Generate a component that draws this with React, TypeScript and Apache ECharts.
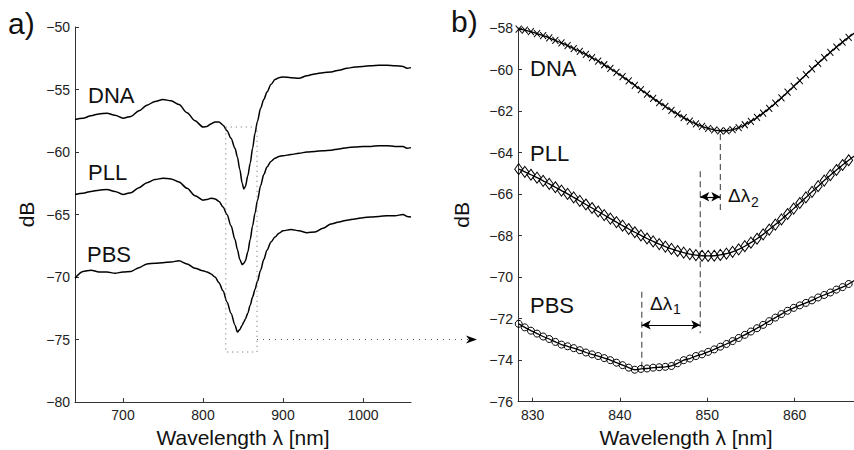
import React, { useEffect, useRef } from "react";
import * as echarts from "echarts";

// ---------- Panel a) full spectra ----------
const fullNm = [640, 650, 660, 670, 680, 690, 700, 710, 720, 730, 740, 750, 760, 770, 780, 790, 800,
  805, 810, 815, 820, 825, 830, 835, 840,
  843, 846, 849, 851, 853, 856, 859, 862, 865, 868,
  872, 876, 880, 885, 890, 895, 900,
  910, 920, 930, 940, 950, 960, 970, 980, 990, 1000, 1010, 1020, 1030, 1040, 1050,
  1055, 1060];
const fullDNA = [-57.4, -57.3, -57.1, -56.95, -56.9, -57.05, -57.3, -57.15, -56.7, -56.25, -55.95, -55.8, -55.9, -56.2, -56.85, -57.5, -58.0,
  -57.95, -57.75, -57.6, -57.6, -57.85, -58.3, -58.9, -59.7,
  -60.4, -61.4, -62.5, -62.95, -62.75, -61.9, -60.9, -59.7, -58.5, -57.55,
  -56.5, -55.8, -55.2, -54.6, -54.2, -54.05, -54.0,
  -54.05, -54.1, -53.9, -53.75, -53.65, -53.6, -53.45, -53.3, -53.2, -53.15, -53.1, -53.05, -53.05, -53.1, -53.15,
  -53.3, -53.25];
const fullPLL = [-63.4, -63.3, -63.15, -63.05, -63.0, -63.15, -63.4, -63.25, -62.85, -62.45, -62.2, -62.1, -62.15, -62.4, -62.9, -63.5, -63.85,
  -63.8, -63.7, -63.75, -63.95, -64.4, -65.0, -65.9, -67.0,
  -67.8, -68.6, -69.0, -68.9, -68.7, -68.0, -67.0, -65.9, -64.9, -63.9,
  -62.7, -61.8, -61.2, -60.75, -60.5, -60.35, -60.3,
  -60.2, -60.1, -60.0, -59.95, -59.9, -59.85, -59.75, -59.65, -59.6, -59.55, -59.55, -59.5, -59.5, -59.55, -59.55,
  -59.7, -59.65];
const fullPBS = [-70.1, -69.55, -69.45, -69.6, -69.6, -69.7, -69.6, -69.55, -69.25, -68.95, -68.9, -68.85, -68.8, -68.7, -68.95, -69.3, -69.5,
  -69.6, -69.75, -70.0, -70.45, -71.1, -72.0, -72.9, -73.85,
  -74.4, -74.2, -73.85, -73.6, -73.35, -72.9, -72.25, -71.6, -71.0, -70.35,
  -69.45, -68.6, -67.85, -67.2, -66.8, -66.5, -66.3,
  -66.2, -66.3, -66.45, -66.4, -66.1, -65.75, -65.6, -65.45, -65.35, -65.25, -65.2, -65.15, -65.1, -65.1, -65.0,
  -65.15, -65.2];

// ---------- Panel b) zoom on the resonance ----------
const zoomNm = [828.4, 829.1, 829.8, 830.5, 831.2, 831.9, 832.6, 833.3, 834.0, 834.7, 835.4, 836.1, 836.8, 837.5,
  838.2, 838.9, 839.6, 840.3, 841.0, 841.7, 842.4, 843.1, 843.8, 844.5, 845.2, 845.9, 846.6, 847.3,
  848.0, 848.7, 849.4, 850.1, 850.8, 851.5, 852.2, 852.9, 853.6, 854.3, 855.0, 855.7, 856.4, 857.1,
  857.8, 858.5, 859.2, 859.9, 860.6, 861.3, 862.0, 862.7, 863.4, 864.1, 864.8, 865.5, 866.2, 866.9];
const zoomDNA = [-58.05, -58.10, -58.18, -58.27, -58.37, -58.48, -58.60, -58.72, -58.85, -58.99, -59.13, -59.27, -59.43, -59.59,
  -59.77, -59.95, -60.14, -60.34, -60.55, -60.76, -60.97, -61.18, -61.39, -61.59, -61.78, -61.97, -62.15, -62.32,
  -62.48, -62.62, -62.74, -62.84, -62.91, -62.95, -62.95, -62.90, -62.80, -62.66, -62.50, -62.31, -62.10, -61.87,
  -61.62, -61.36, -61.09, -60.81, -60.53, -60.25, -59.97, -59.70, -59.43, -59.17, -58.92, -58.68, -58.45, -58.23];
const zoomPLL = [-64.80, -64.93, -65.07, -65.21, -65.36, -65.51, -65.67, -65.83, -65.99, -66.16, -66.33, -66.50, -66.67, -66.84,
  -67.01, -67.18, -67.35, -67.52, -67.68, -67.84, -67.99, -68.14, -68.28, -68.41, -68.53, -68.64, -68.74, -68.82,
  -68.89, -68.94, -68.97, -68.98, -68.97, -68.93, -68.87, -68.78, -68.66, -68.51, -68.34, -68.15, -67.94, -67.71,
  -67.47, -67.22, -66.96, -66.70, -66.43, -66.16, -65.89, -65.62, -65.35, -65.09, -64.84, -64.60, -64.37, -64.15];
const zoomPBS = [-72.25, -72.42, -72.58, -72.72, -72.86, -72.98, -73.12, -73.25, -73.33, -73.42, -73.52, -73.63, -73.72, -73.80,
  -73.90, -74.00, -74.12, -74.24, -74.36, -74.46, -74.42, -74.40, -74.36, -74.34, -74.32, -74.28, -74.15, -74.00,
  -73.92, -73.80, -73.72, -73.60, -73.48, -73.35, -73.22, -73.08, -72.93, -72.78, -72.62, -72.46, -72.30, -72.12,
  -71.95, -71.78, -71.62, -71.48, -71.36, -71.24, -71.12, -70.98, -70.86, -70.74, -70.60, -70.48, -70.33, -70.15];

// ---------- ticks / ranges ----------
const fullXTicks = [700, 800, 900, 1000];
const fullXRange = [640, 1060];
const fullYRange = [-80, -50];
const fullYStep = 5;
const zoomXTicks = [830, 840, 850, 860];
const zoomXRange = [828.32, 866.81];
const zoomYRange = [-76, -58];
const zoomYStep = 2;

// ---------- annotations ----------
const zoomBoxNm = [828.5, 867.5];
const zoomBoxDb = [-76, -58];
const arrowDb = -75;
const dnaMinNm = 851.5;
const pllMinNm = 849.2;
const pbsMinNm = 842.5;
const dashDNA = [-63.1, -66.85];
const dashPLL = [-64.9, -72.7];
const dashPBS = [-70.7, -74.47];
const delta2Db = -66.13;
const delta1Db = -72.3;

const FONT = "'Liberation Sans', Arial, Helvetica, sans-serif";

const pair = (xs: number[], ys: number[]) => xs.map((x, i) => [x, ys[i]]);
const fmt = (v: number) => String(v).replace("-", "\u2212");

export default function App() {
  const ref = useRef<HTMLDivElement>(null);

  useEffect(() => {
    if (!ref.current) return;
    const chart = echarts.init(ref.current, null, { renderer: "svg" });

    const axisLine = { show: true, lineStyle: { color: "#333", width: 1 } };
    const tickBase = { show: true, inside: true, length: 4, lineStyle: { color: "#333", width: 1 } };
    const labelBase = { color: "#222", fontSize: 14, fontFamily: FONT, formatter: fmt };
    const nameStyle = { fontSize: 21, fontFamily: FONT, color: "#111" };

    const curve = (name: string, xi: number, data: number[][]) => ({
      name, type: "line", xAxisIndex: xi, yAxisIndex: xi, data,
      showSymbol: false, smooth: 0.3, smoothMonotone: "x",
      lineStyle: { color: "#000", width: 1.5 }, silent: true,
    });

    const marked = (name: string, data: number[][], symbol: string, size: any) => ({
      name, type: "line", xAxisIndex: 1, yAxisIndex: 1, data,
      symbol, symbolSize: size, showSymbol: true, showAllSymbol: true,
      smooth: 0.3,
      lineStyle: { color: "#000", width: 1.3 },
      itemStyle: { color: "rgba(0,0,0,0)", borderColor: "#000", borderWidth: 1 },
      silent: true,
    });

    const dashed = (x: number, ys: number[]) => ({
      type: "line", xAxisIndex: 1, yAxisIndex: 1, data: [[x, ys[0]], [x, ys[1]]],
      showSymbol: false, lineStyle: { color: "#555", width: 1.2, type: [6, 4] }, silent: true,
    });

    const option: any = {
      animation: false,
      backgroundColor: "#fff",
      grid: [
        { left: 75, top: 27, width: 336, height: 375, containLabel: false, outerBoundsMode: "none" },
        { left: 518, top: 28, width: 336, height: 373.7, containLabel: false, outerBoundsMode: "none" },
      ],
      xAxis: [
        {
          type: "value", gridIndex: 0, min: fullXRange[0], max: fullXRange[1],
          name: "Wavelength \u03bb [nm]", nameLocation: "middle", nameGap: 20, nameTextStyle: nameStyle,
          axisLine, splitLine: { show: false },
          axisTick: { ...tickBase, customValues: fullXTicks },
          axisLabel: { ...labelBase, margin: 6, customValues: fullXTicks },
        },
        {
          type: "value", gridIndex: 1, min: zoomXRange[0], max: zoomXRange[1],
          name: "Wavelength \u03bb [nm]", nameLocation: "middle", nameGap: 20, nameTextStyle: nameStyle,
          axisLine, splitLine: { show: false },
          axisTick: { ...tickBase, customValues: zoomXTicks },
          axisLabel: { ...labelBase, margin: 6, customValues: zoomXTicks },
        },
      ],
      yAxis: [
        {
          type: "value", gridIndex: 0, min: fullYRange[0], max: fullYRange[1], interval: fullYStep,
          name: "dB", nameLocation: "middle", nameGap: 38, nameTextStyle: nameStyle,
          axisLine, splitLine: { show: false }, axisTick: tickBase,
          axisLabel: { ...labelBase, margin: 5 },
        },
        {
          type: "value", gridIndex: 1, min: zoomYRange[0], max: zoomYRange[1], interval: zoomYStep,
          name: "dB", nameLocation: "middle", nameGap: 46, nameTextStyle: nameStyle,
          axisLine, splitLine: { show: false }, axisTick: tickBase,
          axisLabel: { ...labelBase, margin: 5 },
        },
      ],
      series: [
        curve("DNA", 0, pair(fullNm, fullDNA)),
        curve("PLL", 0, pair(fullNm, fullPLL)),
        curve("PBS", 0, pair(fullNm, fullPBS)),
        {
          type: "line", xAxisIndex: 0, yAxisIndex: 0, showSymbol: false, silent: true,
          data: [[zoomBoxNm[0], zoomBoxDb[1]], [zoomBoxNm[1], zoomBoxDb[1]], [zoomBoxNm[1], zoomBoxDb[0]],
            [zoomBoxNm[0], zoomBoxDb[0]], [zoomBoxNm[0], zoomBoxDb[1]]],
          lineStyle: { color: "#666", width: 1, type: [1, 4] },
        },
        marked("DNA fit", pair(zoomNm, zoomDNA), "path://M0,0L10,10M0,10L10,0", [6, 7]),
        marked("PLL fit", pair(zoomNm, zoomPLL), "diamond", [8, 11]),
        marked("PBS fit", pair(zoomNm, zoomPBS), "circle", 7),
        dashed(dnaMinNm, dashDNA),
        dashed(pllMinNm, dashPLL),
        {
          ...dashed(pbsMinNm, dashPBS),
          markLine: {
            silent: true, symbol: ["arrow", "arrow"], symbolSize: [7, 9],
            label: { show: false },
            lineStyle: { color: "#000", width: 1.2, type: "solid" },
            data: [
              [{ coord: [pllMinNm, delta2Db] }, { coord: [dnaMinNm, delta2Db] }],
              [{ coord: [pbsMinNm, delta1Db] }, { coord: [pllMinNm, delta1Db] }],
            ],
          },
        },
      ],
    };
    chart.setOption(option);

    const p0 = (x: number, y: number) => chart.convertToPixel({ gridIndex: 0 } as any, [x, y]) as number[];
    const boxEdge = p0(zoomBoxNm[1], arrowDb);
    const tipX = 477;
    const ay = boxEdge[1];

    const txt = (text: string, x: number, y: number, size: number, extra: any = {}) => ({
      type: "text", x, y, silent: true,
      style: { text, fontSize: size, fontFamily: FONT, fill: "#111", verticalAlign: "middle", align: "left", ...extra },
    });

    chart.setOption({
      graphic: [
        txt("a)", 8, 23, 30),
        txt("b)", 451, 21, 30),
        txt("DNA", 88, 95, 22),
        txt("PLL", 88, 172, 22),
        txt("PBS", 87, 254, 22),
        txt("DNA", 530, 68, 22),
        txt("PLL", 530, 153, 22),
        txt("PBS", 530, 305, 22),
        txt("\u0394\u03bb", 728, 195, 19),
        txt("2", 751, 202, 14),
        txt("\u0394\u03bb", 650, 303, 19),
        txt("1", 673, 309, 14),
        {
          type: "line", silent: true,
          shape: { x1: boxEdge[0], y1: ay, x2: tipX - 9, y2: ay },
          style: { stroke: "#555", lineWidth: 1, lineDash: [1, 5] },
        },
        {
          type: "polygon", silent: true,
          shape: { points: [[tipX - 11, ay - 4], [tipX, ay], [tipX - 11, ay + 4], [tipX - 8, ay]] },
          style: { fill: "#000" },
        },
      ],
    });

    return () => chart.dispose();
  }, []);

  return (
    <div
      ref={ref}
      style={{ position: "fixed", left: 0, top: 0, width: 854, height: 450, background: "#fff" }}
    />
  );
}
